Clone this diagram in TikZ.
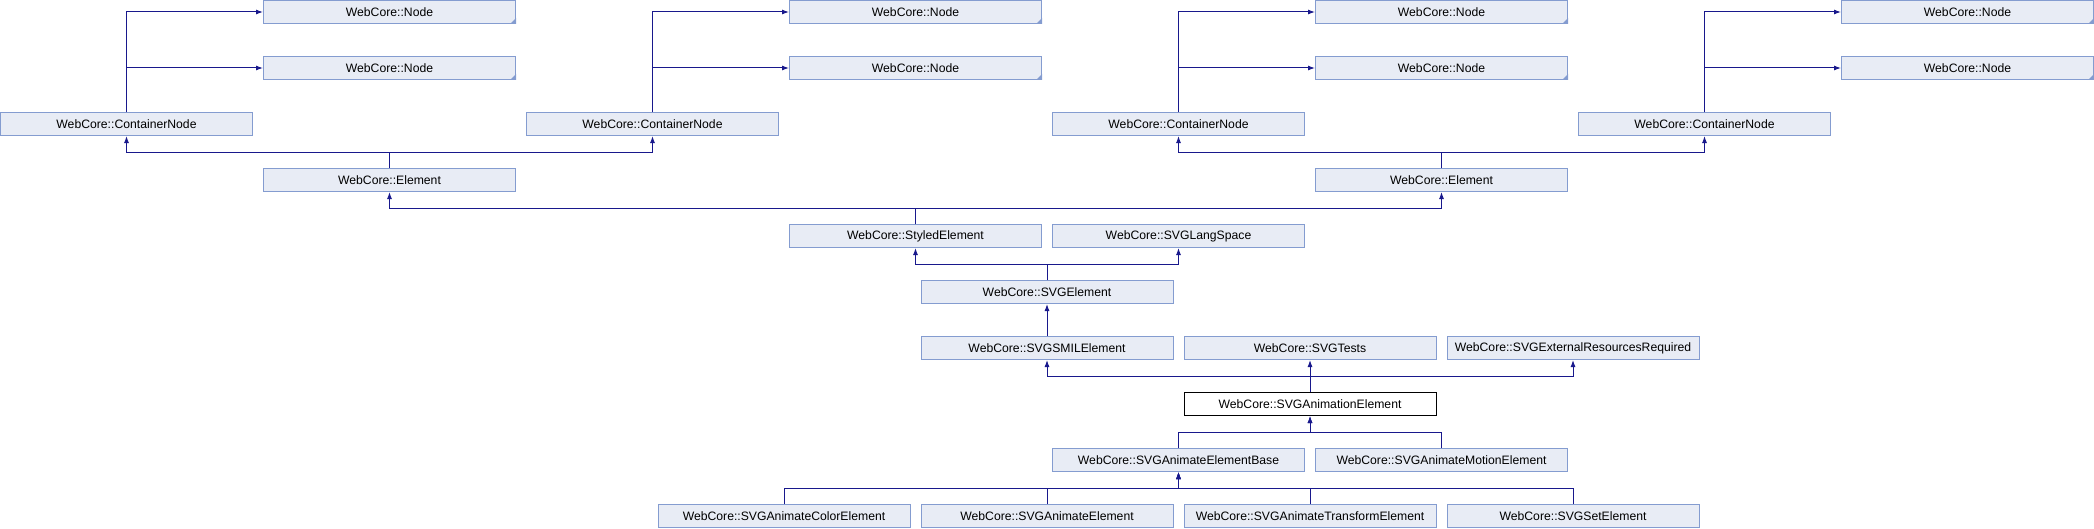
\documentclass[tikz,border=0pt]{standalone}
\usepackage{xcolor}
\usepackage{tikz}
\usepackage{fontspec}
\setmainfont{Liberation Sans}
\usetikzlibrary{arrows.meta}

\definecolor{boxfill}{RGB}{232,236,245}
\definecolor{boxline}{RGB}{132,156,208}
\definecolor{inhline}{RGB}{24,24,140}

\begin{document}
\begin{tikzpicture}[x=0.75pt,y=0.75pt,yscale=-1,xscale=1,
        cls/.style={draw=boxline, fill=boxfill, line width=0.75, minimum width=189pt, minimum height=17.25pt, inner sep=0pt, font=\fontsize{9.15}{11}\selectfont},
        cur/.style={cls, draw=black, fill=white},
        inh/.style={draw=inhline, line width=0.75, -{Latex[length=5.25pt,width=3.75pt]}}]

        \useasboundingbox (0,0) rectangle (2094,528);

        % top rows
        \node (nodeA1) at (389.5,12) [cls] {WebCore::Node};
        \node (nodeA2) at (389.5,68) [cls] {WebCore::Node};
        \node (nodeB1) at (915.5,12) [cls] {WebCore::Node};
        \node (nodeB2) at (915.5,68) [cls] {WebCore::Node};
        \node (nodeC1) at (1441.5,12) [cls] {WebCore::Node};
        \node (nodeC2) at (1441.5,68) [cls] {WebCore::Node};
        \node (nodeD1) at (1967.5,12) [cls] {WebCore::Node};
        \node (nodeD2) at (1967.5,68) [cls] {WebCore::Node};

        \node (contA) at (126.5,124) [cls] {WebCore::ContainerNode};
        \node (contB) at (652.5,124) [cls] {WebCore::ContainerNode};
        \node (contC) at (1178.5,124) [cls] {WebCore::ContainerNode};
        \node (contD) at (1704.5,124) [cls] {WebCore::ContainerNode};

        \node (elemA) at (389.5,180) [cls] {WebCore::Element};
        \node (elemB) at (1441.5,180) [cls] {WebCore::Element};

        \node (styled) at (915.5,236) [cls] {WebCore::StyledElement};
        \node (langspace) at (1178.5,236) [cls] {WebCore::SVGLangSpace};
        \node (svgelem) at (1047,292) [cls] {WebCore::SVGElement};

        \node (smil) at (1047,348) [cls] {WebCore::SVGSMILElement};
        \node (tests) at (1310,348) [cls] {WebCore::SVGTests};
        \node (extres) at (1573,348) [cls] {WebCore::SVGExternalResourcesRequired};

        \node (anim) at (1310,404) [cur] {WebCore::SVGAnimationElement};

        \node (animbase) at (1178.5,460) [cls] {WebCore::SVGAnimateElementBase};
        \node (motion) at (1441.5,460) [cls] {WebCore::SVGAnimateMotionElement};

        \node (color) at (784,516) [cls] {WebCore::SVGAnimateColorElement};
        \node (animate) at (1047,516) [cls] {WebCore::SVGAnimateElement};
        \node (transform) at (1310,516) [cls] {WebCore::SVGAnimateTransformElement};
        \node (set) at (1573,516) [cls] {WebCore::SVGSetElement};

        % corner marks
        \foreach \n in {nodeA1,nodeA2,nodeB1,nodeB2,nodeC1,nodeC2,nodeD1,nodeD2}
            \fill[boxline] (\n.south east) -- ++(-6,0) -- ++(6,-6) -- cycle;

        % inheritance
        \foreach \c/\p in {contA/nodeA1,contA/nodeA2,contB/nodeB1,contB/nodeB2,contC/nodeC1,contC/nodeC2,contD/nodeD1,contD/nodeD2}
            \draw[inh] (\c.north) |- (\p.west);

        \foreach \c/\p in {elemA/contA,elemA/contB,elemB/contC,elemB/contD,styled/elemA,styled/elemB,svgelem/styled,svgelem/langspace,smil/svgelem,anim/smil,anim/tests,anim/extres,animbase/anim,motion/anim,color/animbase,animate/animbase,transform/animbase,set/animbase}
            \draw[inh] (\c.north) -- ++(0,-16) -| (\p.south);

    \end{tikzpicture}
\end{document}
